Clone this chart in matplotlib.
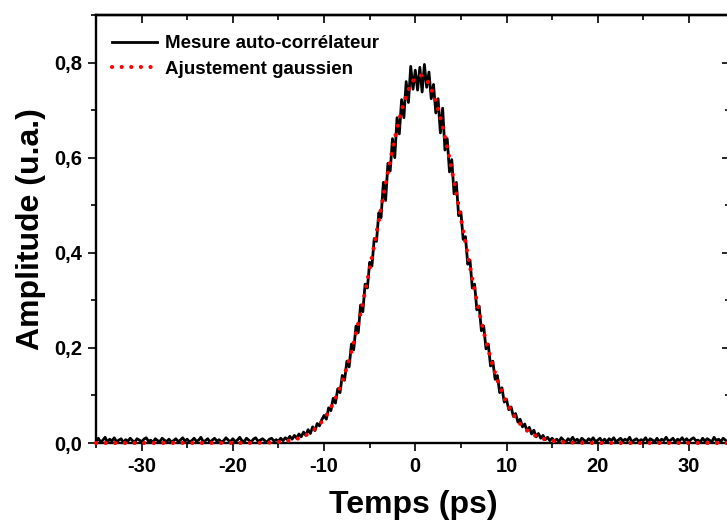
#!/usr/bin/env python3
"""Autocorrélation d'impulsion — mesure + ajustement gaussien"""
import matplotlib
matplotlib.use('Agg')
import matplotlib.pyplot as plt
from matplotlib.ticker import MultipleLocator, FuncFormatter, NullFormatter
import numpy as np

# --- data (time step 0.25 ps, -35 ... 35 ps) ---
T_START, T_STOP = -35.0, 35.0
MEASURE = [
    # -35 .. -30.25
    0.004, 0.010, 0.002, 0.006, 0.012, 0.002, 0.008, 0.004, 0.011, 0.003,
    0.006, 0.009, 0.001, 0.007, 0.004, 0.010, 0.005, 0.002, 0.009, 0.006,
    # -30 .. -25.25
    0.003, 0.008, 0.011, 0.004, 0.006, 0.001, 0.009, 0.005, 0.003, 0.010,
    0.006, 0.003, 0.008, 0.002, 0.005, 0.009, 0.003, 0.006, 0.011, 0.004,
    # -25 .. -20.25
    0.008, 0.002, 0.005, 0.010, 0.004, 0.006, 0.012, 0.003, 0.005, 0.009,
    0.002, 0.006, 0.010, 0.004, 0.007, 0.002, 0.005, 0.011, 0.006, 0.003,
    # -20 .. -15.25
    0.009, 0.003, 0.006, 0.012, 0.005, 0.003, 0.010, 0.006, 0.002, 0.008,
    0.011, 0.004, 0.006, 0.009, 0.005, 0.002, 0.008, 0.010, 0.004, 0.007,
    # -15 .. -10.25
    0.004, 0.010, 0.005, 0.011, 0.007, 0.014, 0.008, 0.016, 0.010, 0.019,
    0.013, 0.023, 0.016, 0.028, 0.020, 0.034, 0.026, 0.041, 0.036, 0.049,
    # -10 .. -5.25
    0.058, 0.050, 0.074, 0.068, 0.094, 0.084, 0.114, 0.106, 0.142, 0.132,
    0.172, 0.160, 0.208, 0.196, 0.246, 0.232, 0.290, 0.276, 0.334, 0.326,
    # -5 .. -0.25
    0.380, 0.372, 0.430, 0.424, 0.484, 0.474, 0.548, 0.510, 0.588, 0.572,
    0.640, 0.600, 0.684, 0.650, 0.722, 0.684, 0.760, 0.716, 0.792, 0.744,
    # 0 .. 4.75
    0.784, 0.742, 0.790, 0.738, 0.796, 0.748, 0.780, 0.724, 0.754, 0.694,
    0.724, 0.652, 0.704, 0.616, 0.640, 0.570, 0.596, 0.524, 0.548, 0.478,
    # 5 .. 9.75
    0.486, 0.428, 0.434, 0.376, 0.384, 0.326, 0.334, 0.280, 0.288, 0.236,
    0.246, 0.198, 0.208, 0.162, 0.172, 0.134, 0.142, 0.106, 0.116, 0.086,
    # 10 .. 14.75
    0.092, 0.070, 0.076, 0.056, 0.062, 0.044, 0.050, 0.034, 0.040, 0.025,
    0.033, 0.019, 0.027, 0.013, 0.020, 0.010, 0.016, 0.007, 0.012, 0.005,
    # 15 .. 19.75
    0.010, 0.004, 0.008, 0.003, 0.011, 0.006, 0.002, 0.009, 0.005, 0.012,
    0.004, 0.008, 0.002, 0.010, 0.006, 0.003, 0.009, 0.005, 0.011, 0.003,
    # 20 .. 24.75
    0.006, 0.010, 0.003, 0.008, 0.002, 0.009, 0.005, 0.011, 0.003, 0.006,
    0.010, 0.004, 0.008, 0.005, 0.012, 0.002, 0.006, 0.009, 0.003, 0.007,
    # 25 .. 29.75
    0.005, 0.011, 0.002, 0.009, 0.006, 0.003, 0.010, 0.002, 0.008, 0.005,
    0.012, 0.004, 0.006, 0.010, 0.002, 0.008, 0.005, 0.011, 0.004, 0.009,
    # 30 .. 35
    0.003, 0.008, 0.011, 0.005, 0.006, 0.002, 0.010, 0.004, 0.009, 0.006,
    0.002, 0.012, 0.005, 0.008, 0.003, 0.010, 0.006, 0.002, 0.009, 0.005,
    0.006,
]
LABELS = ['Mesure auto-corrélateur', 'Ajustement gaussien']
XLIM, YLIM = (-35, 34.5), (0, 0.9)

plt.rcParams.update({
    'font.family': ['Liberation Sans', 'DejaVu Sans'],
    'font.weight': 'bold',
    'axes.linewidth': 1.7,
})

t = np.linspace(T_START, T_STOP, len(MEASURE))
y = np.array(MEASURE)

# gaussian fit (log-parabola, weighted) on the pulse itself
m = y > 0.05
a, b, c = np.polyfit(t[m], np.log(y[m]), 2, w=y[m])
x0 = -b / (2 * a)
amp = np.exp(c - b * b / (4 * a))
tf = np.linspace(XLIM[0], XLIM[1], 1500)
yf = amp * np.exp(a * (tf - x0) ** 2)

fig = plt.figure(figsize=(7.27, 5.23), dpi=100)
ax = fig.add_axes([96 / 727, 80 / 523, 634 / 727, 428 / 523])

ax.plot(t, y, color='black', lw=2.0, label=LABELS[0], zorder=3)
ax.plot(tf, yf, color='red', lw=3.0, linestyle=(0, (0.01, 2.3)),
        dash_capstyle='round', label=LABELS[1], zorder=4, clip_on=False)

ax.set_xlim(*XLIM)
ax.set_ylim(*YLIM)
ax.xaxis.set_major_locator(MultipleLocator(10))
ax.xaxis.set_minor_locator(MultipleLocator(5))
ax.yaxis.set_major_locator(MultipleLocator(0.2))
ax.yaxis.set_minor_locator(MultipleLocator(0.1))
ax.xaxis.set_major_formatter(FuncFormatter(lambda v, p: f'{int(round(v))}'))
ax.yaxis.set_major_formatter(FuncFormatter(lambda v, p: f'{v:.1f}'.replace('.', ',')))
ax.tick_params(which='major', direction='out', length=6, width=1.2, labelsize=14.5, pad=4)
ax.tick_params(which='minor', direction='out', length=3.5, width=1.2)

# inward ticks on top / right, no labels
top = ax.secondary_xaxis('top')
top.xaxis.set_major_locator(MultipleLocator(10))
top.xaxis.set_minor_locator(MultipleLocator(5))
top.xaxis.set_major_formatter(NullFormatter())
top.tick_params(which='major', direction='in', length=6, width=1.2)
top.tick_params(which='minor', direction='in', length=3.5, width=1.2)
right = ax.secondary_yaxis('right')
right.yaxis.set_major_locator(MultipleLocator(0.2))
right.yaxis.set_minor_locator(MultipleLocator(0.1))
right.yaxis.set_major_formatter(NullFormatter())
right.tick_params(which='major', direction='in', length=6, width=1.2)
right.tick_params(which='minor', direction='in', length=3.5, width=1.2)

ax.set_xlabel('Temps (ps)', fontsize=23, fontweight='bold', labelpad=10)
ax.set_ylabel('Amplitude (u.a.)', fontsize=23, fontweight='bold', labelpad=6)

ax.legend(loc='upper left', frameon=False, fontsize=13.5, handlelength=2.4,
          handletextpad=0.4, labelspacing=0.45, borderaxespad=0.0,
          bbox_to_anchor=(0.014, 0.97))

fig.savefig('out.png', dpi=100)
